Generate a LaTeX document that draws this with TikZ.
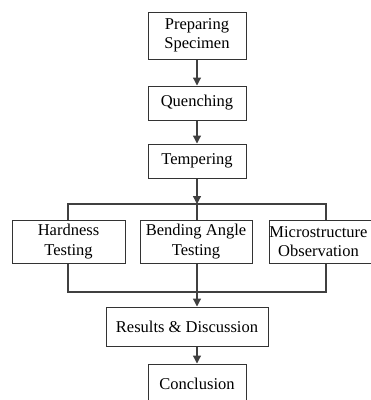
\documentclass[tikz,border=0pt]{standalone}
\usepackage{fontspec}
\setmainfont{Liberation Serif}
\usetikzlibrary{arrows.meta}
\begin{document}
\begin{tikzpicture}[x=1pt,y=-1pt,
  box/.style={draw=black!80, line width=1pt, inner sep=0pt, align=center,
    font=\fontsize{16.5}{19.5}\selectfont},
  conn/.style={draw=black!75, line width=1.2pt},
  arr/.style={conn, -{Triangle[length=8pt,width=8pt]}}]
\useasboundingbox (0,0) rectangle (371,400);
\clip (0,0) rectangle (371,400);
\node[box, minimum width=98pt, minimum height=47pt] (prep) at (197,35.5) {Preparing\\Specimen};
\node[box, minimum width=98pt, minimum height=34pt] (quen) at (197,103) {Quenching};
\node[box, minimum width=98pt, minimum height=34pt] (temp) at (197,161) {Tempering};
\node[box, minimum width=113pt, minimum height=43pt] (hard) at (68.5,241.5) {Hardness\\Testing};
\node[box, minimum width=112pt, minimum height=43pt] (bend) at (196,241.5) {Bending Angle\\Testing};
\node[box, minimum width=112pt, minimum height=43pt] (micr) at (325,241.5) {Microstructure\hspace*{13pt}\\Observation\hspace*{13pt}};
\node[box, minimum width=162pt, minimum height=39pt] (res) at (187,326.5) {Results \& Discussion};
\node[box, minimum width=98pt, minimum height=40pt] (conc) at (197,384) {Conclusion};
\coordinate (split) at (197,204);
\coordinate (merge) at (197,292);
\draw[arr] (prep.south) -- (quen.north);
\draw[arr] (quen.south) -- (temp.north);
\draw[arr] (temp.south) -- (split);
\draw[conn] (hard.north -| 68,0) |- (split) -| (micr.north -| 326,0);
\draw[conn] (split) -- (bend.north -| split);
\draw[conn] (hard.south -| 68,0) |- (merge) -| (micr.south -| 326,0);
\draw[conn] (bend.south -| merge) -- (merge);
\draw[arr] (merge) -- (res.north -| merge);
\draw[arr] (res.south -| conc.north) -- (conc.north);
\end{tikzpicture}
\end{document}
